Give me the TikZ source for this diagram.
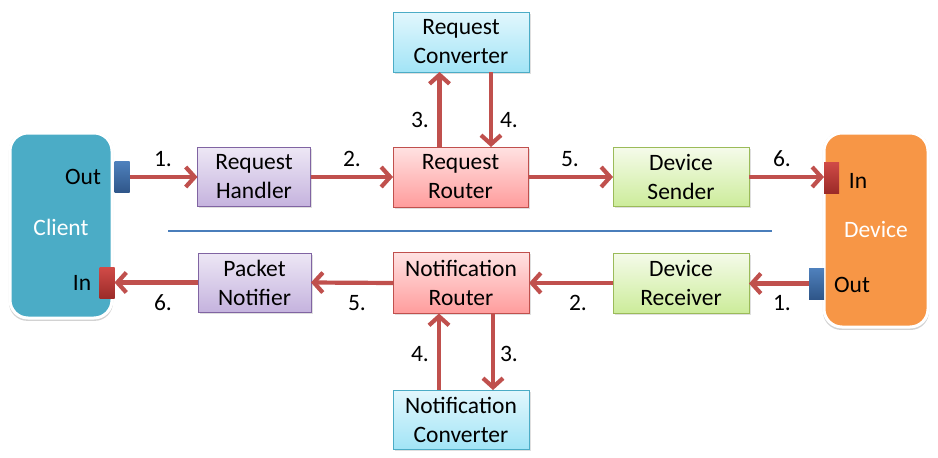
\documentclass[tikz,border=0pt]{standalone}
\usepackage{fontspec}
\setmainfont{Carlito}
\usetikzlibrary{arrows.meta,shadows}
\definecolor{arrowred}{HTML}{C0504D}
\definecolor{divblue}{HTML}{4A7EBB}
\definecolor{clientfill}{HTML}{4BACC6}
\definecolor{devicefill}{HTML}{F79646}
\definecolor{HTML8064A2}{HTML}{8064A2}
\definecolor{purpletop}{HTML}{EDE7F5}
\definecolor{purplebot}{HTML}{C5B3DE}
\definecolor{redborder}{HTML}{C0504D}
\definecolor{redtop}{HTML}{FFE2E2}
\definecolor{redbot}{HTML}{FF9C9C}
\definecolor{cyanborder}{HTML}{4BACC6}
\definecolor{cyantop}{HTML}{E2F7FD}
\definecolor{cyanbot}{HTML}{A2E4F6}
\definecolor{greenborder}{HTML}{9BBB59}
\definecolor{greentop}{HTML}{F5FBEA}
\definecolor{greenbot}{HTML}{CCEC9A}
\definecolor{HTML4F81BD}{HTML}{4F81BD}
\definecolor{HTML2F5689}{HTML}{2F5689}
\definecolor{HTMLD04A47}{HTML}{D04A47}
\definecolor{HTML9B2B28}{HTML}{9B2B28}
\begin{document}
\begin{tikzpicture}[x=1pt,y=-1pt,
  every node/.style={font=\fontsize{23.5}{29}\selectfont, inner sep=0pt, outer sep=0pt},
  boxbase/.style={draw, line width=0.8pt, align=center, drop shadow={shadow xshift=1.5pt, shadow yshift=-1.5pt, opacity=0.25}},
  purplebox/.style={boxbase, draw=HTML8064A2, top color=purpletop, bottom color=purplebot},
  redbox/.style={boxbase, draw=redborder, top color=redtop, bottom color=redbot},
  cyanbox/.style={boxbase, draw=cyanborder, top color=cyantop, bottom color=cyanbot},
  greenbox/.style={boxbase, draw=greenborder, top color=greentop, bottom color=greenbot},
  bigbox/.style={rounded corners=18pt, draw=white, line width=3pt, drop shadow={shadow xshift=0pt, shadow yshift=-1pt, opacity=0.35, shadow scale=1.02}},
  portblue/.style={draw=none, top color=HTML4F81BD, bottom color=HTML2F5689, minimum width=15pt, minimum height=31pt},
  portred/.style={draw=none, top color=HTMLD04A47, bottom color=HTML9B2B28, minimum width=15pt, minimum height=31pt},
  flow/.style={draw=arrowred, line width=4.2pt, -{Straight Barb[length=9pt,width=20pt]}},
  numlabel/.style={text=black}
]
\useasboundingbox[fill=white] (0,0) rectangle (938,458);

% big boxes
\node[bigbox, fill=clientfill, minimum width=102pt, minimum height=185pt] (client) at (61,225.5) {};
\node[bigbox, fill=devicefill, minimum width=104pt, minimum height=194pt] (device) at (876,230) {};
\node[text=white] (clientlbl) at (61,227) {Client};
\node[text=white] (devicelbl) at (876,229) {Device};
\node (cout) at (83,177) {Out};
\node (cin) at (82,283) {In};
\node (din) at (858,181) {In};
\node (dout) at (852,285) {Out};

% ports
\node[portblue] (cportout) at (122,177) {};
\node[portred] (cportin) at (107,283) {};
\node[portred] (dportin) at (831.5,177.5) {};
\node[portblue] (dportout) at (816.5,283.5) {};

% process boxes
\node[purplebox, minimum width=113pt, minimum height=59pt] (handler) at (254,177) {Request\\Handler};
\node[redbox, minimum width=135pt, minimum height=60pt] (rrouter) at (460.5,177) {Request\\Router};
\node[cyanbox, minimum width=136pt, minimum height=60pt] (rconv) at (461,42) {Request\\Converter};
\node[greenbox, minimum width=136pt, minimum height=59pt] (sender) at (681,177) {Device\\Sender};
\node[purplebox, minimum width=113pt, minimum height=59pt] (notifier) at (254.5,282.5) {Packet\\Notifier};
\node[redbox, minimum width=136pt, minimum height=61pt] (nrouter) at (461,283) {Notification\\Router};
\node[cyanbox, minimum width=136pt, minimum height=59pt] (nconv) at (461,419.5) {Notification\\Converter};
\node[greenbox, minimum width=136pt, minimum height=60pt] (receiver) at (681,283) {Device\\Receiver};

% divider
\coordinate (divL) at (168,231);
\coordinate (divR) at (772,231);
\draw[divblue, line width=1.3pt] (divL) -- (divR);

% top flow
\draw[flow] (cportout.east) -- (cportout.east -| handler.west);
\draw[flow] (handler.east) -- (rrouter.west);
\draw[flow] ([xshift=-21pt]rrouter.north) -- ([xshift=-21pt]rrouter.north |- rconv.south);
\draw[flow] ([xshift=30pt]rconv.south) -- ([xshift=30pt]rconv.south |- rrouter.north);
\draw[flow] (rrouter.east) -- (sender.west);
\draw[flow] (sender.east) -- (sender.east -| dportin.west);

% bottom flow
\draw[flow] (dportout.west) -- (dportout.west -| receiver.east);
\draw[flow] (receiver.west) -- (nrouter.east);
\draw[flow] ([xshift=32pt]nrouter.south) -- ([xshift=32pt]nrouter.south |- nconv.north);
\draw[flow] ([xshift=-22pt]nconv.north) -- ([xshift=-22pt]nconv.north |- nrouter.south);
\draw[flow] (nrouter.west) -- (notifier.east);
\draw[flow] (notifier.west) -- (notifier.west -| cportin.east);

% step numbers
\node[numlabel] (n1t) at (163,159) {1.};
\node[numlabel] (n2t) at (352,159) {2.};
\node[numlabel] (n3t) at (420,120) {3.};
\node[numlabel] (n4t) at (509,120) {4.};
\node[numlabel] (n5t) at (570,159) {5.};
\node[numlabel] (n6t) at (782,159) {6.};
\node[numlabel] (n1b) at (782,303) {1.};
\node[numlabel] (n2b) at (578,303) {2.};
\node[numlabel] (n3b) at (509,354) {3.};
\node[numlabel] (n4b) at (420,354) {4.};
\node[numlabel] (n5b) at (357,303) {5.};
\node[numlabel] (n6b) at (163,303) {6.};
\end{tikzpicture}
\end{document}
